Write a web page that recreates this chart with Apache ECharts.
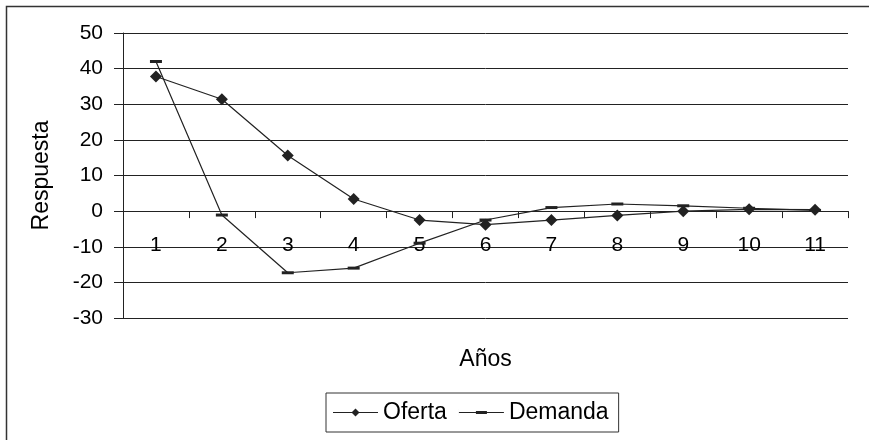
<!DOCTYPE html>
<html>
<head>
<meta charset="utf-8">
<script src="https://cdn.jsdelivr.net/npm/echarts@6/dist/echarts.min.js"></script>
<style>
  html, body { margin: 0; padding: 0; background: #fff; }
  #chart { width: 869px; height: 440px; }
</style>
</head>
<body>
<div id="chart"></div>
<script>
var years = ['1', '2', '3', '4', '5', '6', '7', '8', '9', '10', '11'];
var oferta = [37.8, 31.4, 15.6, 3.4, -2.5, -3.8, -2.5, -1.2, 0, 0.5, 0.4];
var demanda = [42, -1.1, -17.3, -16, -9, -2.5, 1, 2, 1.5, 0.8, 0.2];

var font = 'Liberation Sans, Arial, sans-serif';
var ink = '#222';

// iconos de la leyenda: linea + marcador
var iconOferta = 'path://M0,3.5H45V4.5H0Z M22.5,0L26.5,4L22.5,8L18.5,4Z';
var iconDemanda = 'path://M0,3.5H45V4.5H0Z M17,2.5H28V5.5H17Z M0,0H0.01V8H0Z';

var myChart = echarts.init(document.getElementById('chart'));
var option = {
    backgroundColor: '#fff',
    animation: false,
    graphic: [{
        type: 'rect',
        shape: { x: 6.5, y: 6.5, width: 900, height: 500 },
        style: { fill: 'none', stroke: '#333', lineWidth: 1.5 },
        silent: true
    }],
    grid: {
        left: 123,
        right: 21,
        top: 33,
        bottom: 122,
        containLabel: false,
        outerBoundsMode: 'none'
    },
    legend: {
        left: 326,
        top: 393,
        itemWidth: 45,
        itemHeight: 8,
        itemGap: 12,
        padding: [8, 10, 8, 7],
        borderColor: '#333',
        borderWidth: 1,
        textStyle: { fontFamily: font, fontSize: 23, color: '#000' },
        data: [
            { name: 'Oferta', icon: iconOferta },
            { name: 'Demanda', icon: iconDemanda }
        ]
    },
    xAxis: {
        type: 'category',
        boundaryGap: true,
        data: years,
        // el eje cruza en y = 0
        offset: -106.9,
        name: 'Años',
        nameLocation: 'middle',
        nameGap: 137,
        nameTextStyle: { fontFamily: font, fontSize: 23, color: '#000' },
        axisLine: { onZero: false, lineStyle: { color: ink, width: 1 } },
        axisTick: { show: true, length: 7, lineStyle: { color: ink } },
        axisLabel: { fontFamily: font, fontSize: 21, color: '#000', margin: 24 },
        splitLine: { show: false }
    },
    yAxis: {
        type: 'value',
        min: -30,
        max: 50,
        interval: 10,
        name: 'Respuesta',
        nameLocation: 'middle',
        nameGap: 70,
        nameRotate: 90,
        nameTextStyle: { fontFamily: font, fontSize: 23, color: '#000' },
        axisLine: { show: true, lineStyle: { color: ink, width: 1 } },
        axisTick: { show: true, length: 9, lineStyle: { color: ink } },
        axisLabel: { fontFamily: font, fontSize: 21, color: '#000', margin: 20 },
        splitLine: { show: true, lineStyle: { color: ink, width: 1 } }
    },
    series: [{
        name: 'Oferta',
        type: 'line',
        data: oferta,
        symbol: 'diamond',
        symbolSize: 12,
        showAllSymbol: true,
        lineStyle: { color: ink, width: 1.2 },
        itemStyle: { color: ink, borderWidth: 0 }
    }, {
        name: 'Demanda',
        type: 'line',
        data: demanda,
        symbol: 'rect',
        symbolSize: [12, 3],
        showAllSymbol: true,
        lineStyle: { color: ink, width: 1.2 },
        itemStyle: { color: ink, borderWidth: 0 }
    }]
};
myChart.setOption(option);
</script>
</body>
</html>
